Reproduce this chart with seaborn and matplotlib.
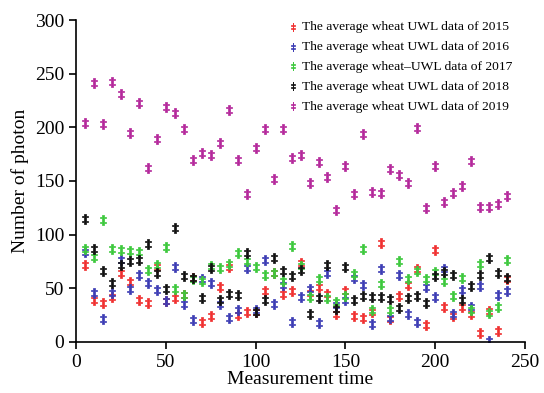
import numpy as np
import pandas as pd
import seaborn as sns
import matplotlib
matplotlib.use("Agg")
import matplotlib.pyplot as plt

# measurement times
x = list(range(5, 245, 5))

y2015 = [72, 39, 36, 42, 64, 56, 39, 36, 70, 38,
         41, 44, 60, 19, 24, 51, 70, 25, 28, 28,
         47, 64, 45, 47, 74, 46, 51, 45, 26, 47,
         24, 22, 28, 92, 21, 43, 53, 68, 16, 86,
         33, 24, 33, 26, 8, 29, 10, 59]
y2016 = [84, 46, 21, 46, 76, 49, 62, 55, 48, 38,
         70, 35, 20, 59, 55, 35, 22, 30, 69, 30,
         76, 35, 53, 19, 42, 49, 18, 64, 34, 39,
         60, 53, 17, 68, 22, 62, 26, 19, 51, 42,
         68, 26, 48, 33, 52, 0.5, 44, 47]
y2017 = [87, 79, 114, 87, 86, 85, 84, 67, 72, 88,
         49, 44, 59, 57, 71, 69, 73, 83, 75, 70,
         62, 64, 57, 89, 71, 42, 59, 41, 37, 43,
         63, 87, 30, 54, 30, 75, 59, 66, 59, 65,
         57, 43, 60, 30, 73, 27, 33, 76]
y2018 = [115, 87, 66, 55, 72, 75, 76, 91, 64, 49,
         106, 61, 60, 41, 69, 39, 45, 44, 83, 28,
         39, 78, 66, 61, 67, 26, 41, 72, 31, 70,
         39, 43, 42, 42, 40, 32, 41, 43, 36, 61,
         65, 62, 39, 52, 62, 78, 64, 60]
y2019 = [204, 241, 203, 242, 231, 195, 223, 162, 189, 219,
         213, 198, 170, 176, 174, 185, 216, 170, 138, 181,
         198, 152, 198, 171, 174, 148, 168, 154, 123, 164,
         138, 194, 140, 139, 161, 156, 148, 199, 125, 164,
         130, 139, 145, 169, 126, 126, 129, 136]

labels = ["The average wheat UWL data of 2015",
          "The average wheat UWL data of 2016",
          "The average wheat\u2013UWL data of 2017",
          "The average wheat UWL data of 2018",
          "The average wheat UWL data of 2019"]
colors = ["#f03030", "#3c3cb4", "#3cc83c", "#111111", "#b4289b"]

plt.rcParams['font.family'] = ['Liberation Serif', 'DejaVu Serif']

fig = plt.figure(figsize=(5.44, 3.93), dpi=100)
ax = fig.add_axes([0.14, 0.13, 0.825, 0.819])

for ys, lab, c in zip([y2015, y2016, y2017, y2018, y2019], labels, colors):
    df = pd.DataFrame({"t": x, "n": ys})
    sns.scatterplot(data=df, x="t", y="n", ax=ax, marker=r'$\ddagger$',
                    s=55, color=c, edgecolor=c, linewidth=0.5, label=lab)

ax.set_xlim(0, 250)
ax.set_ylim(0, 300)
ax.set_xticks(range(0, 251, 50))
ax.set_yticks(range(0, 301, 50))
ax.spines['top'].set_visible(False)
ax.spines['right'].set_visible(False)
ax.spines['left'].set_linewidth(1.2)
ax.spines['bottom'].set_linewidth(1.2)
ax.tick_params(labelsize=14, length=5, width=1.2, direction='out')
ax.set_xlabel("Measurement time", fontsize=14, labelpad=0)
ax.set_ylabel("Number of photon", fontsize=14, labelpad=4)

ax.legend(loc='upper right', bbox_to_anchor=(1.0, 1.035), frameon=False,
          fontsize=9.7, handletextpad=0.1, labelspacing=0.55, markerscale=0.75,
          handlelength=1.2)

fig.savefig("out.png", dpi=100)
